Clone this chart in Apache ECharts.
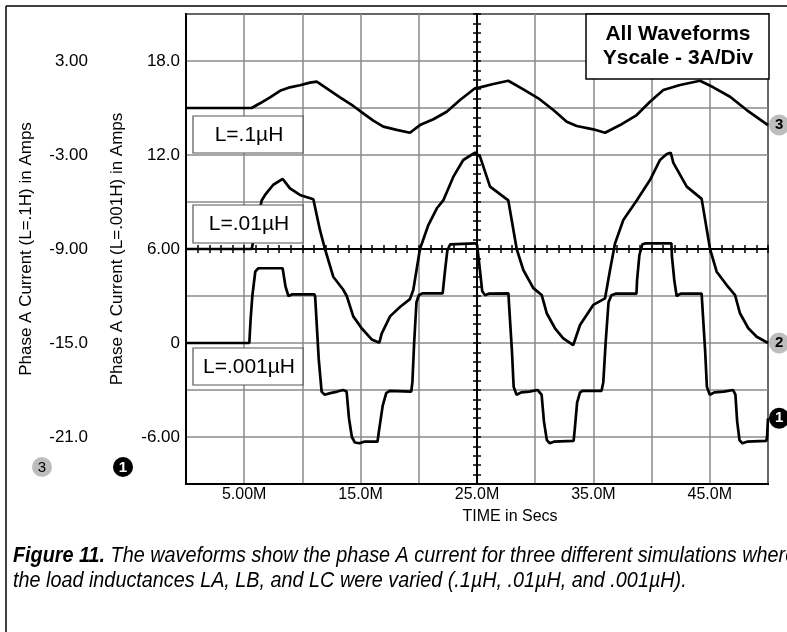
<!DOCTYPE html>
<html>
<head>
<meta charset="utf-8">
<script src="https://cdn.jsdelivr.net/npm/echarts@6/dist/echarts.min.js"></script>
<style>
  html, body { margin: 0; padding: 0; background: #fff; }
  #chart { width: 787px; height: 632px; }
</style>
</head>
<body>
<div id="chart"></div>
<script>
// time in ms (scope writes "M"), currents in amps
const xTicks = [5, 15, 25, 35, 45];
const innerTicks = [18, 12, 6, 0, -6];     // L=.001H axis
const outerTicks = [3, -3, -9, -15, -21];  // L=.1H axis

// L=.001uH, read against the inner axis
const curve1 = [
  [0, 0], [5.44, 0], [5.55, 1.5], [5.7, 3.0], [5.95, 4.55], [6.2, 4.77], [8.3, 4.77],
  [8.35, 4.7], [8.55, 3.6], [8.8, 3.0], [9.1, 3.1], [11.05, 3.1],
  [11.1, 2.9], [11.4, -1.0], [11.65, -3.1], [11.9, -3.3], [12.4, -3.2], [13.0, -3.1], [13.5, -3.0], [13.8, -3.1],
  [14.0, -4.8], [14.25, -6.0], [14.5, -6.35], [14.9, -6.4], [15.3, -6.3], [16.45, -6.3],
  [16.6, -5.5], [16.9, -4.0], [17.2, -3.2], [17.5, -3.05], [19.35, -3.1],
  [19.45, -2.5], [19.6, 0], [19.8, 2.6], [20.0, 3.05], [20.3, 3.17], [22.05, 3.17],
  [22.25, 4.6], [22.45, 5.9], [22.7, 6.3], [24.8, 6.36],
  [25.0, 6.3], [25.2, 5.0], [25.45, 3.3], [25.7, 3.05], [26.0, 3.15], [27.7, 3.17],
  [27.75, 2.5], [28.0, -0.5], [28.15, -2.8], [28.4, -3.3], [28.8, -3.15], [29.5, -3.1], [30.2, -3.0], [30.35, -3.05],
  [30.55, -3.3], [30.75, -5.0], [31.0, -6.2], [31.25, -6.4], [31.6, -6.3], [33.3, -6.25],
  [33.4, -5.5], [33.6, -3.8], [33.85, -3.15], [34.1, -3.05], [35.7, -3.05],
  [35.85, -2.5], [36.05, 0], [36.3, 2.6], [36.55, 3.05], [36.9, 3.15], [38.7, 3.15],
  [38.75, 4.0], [38.95, 5.6], [39.2, 6.3], [39.5, 6.36], [41.7, 6.36],
  [41.75, 5.5], [41.95, 4.0], [42.15, 3.0], [42.5, 3.15], [44.3, 3.15],
  [44.35, 2.5], [44.6, -0.5], [44.75, -2.8], [45.0, -3.3], [45.4, -3.15], [46.2, -3.1], [47.0, -3.0], [47.1, -3.1],
  [47.2, -3.3], [47.35, -5.0], [47.55, -6.2], [47.8, -6.4], [48.2, -6.3], [49.85, -6.25],
  [49.92, -6.0], [50, -4.8]
];

// L=.01uH, its zero sits on the centre line
const curve2 = [
  [0, 0], [5.64, 0], [6.1, 1.6], [6.5, 3.1], [6.79, 3.45], [7.5, 4.1], [8.31, 4.47],
  [8.93, 3.87], [9.79, 3.45], [10.94, 3.17], [11.51, 1.2], [11.94, 0],
  [12.65, -1.77], [13.51, -2.6], [13.81, -3.0], [14.37, -4.3], [15.09, -5.06], [15.95, -5.77], [16.61, -5.98],
  [16.81, -5.4], [17.53, -4.3], [18.38, -3.7], [19.24, -3.2], [19.53, -2.6], [20.1, 0],
  [20.82, 1.53], [21.55, 2.6], [22.1, 3.1], [22.96, 4.6], [23.82, 5.68], [24.83, 6.15],
  [25.26, 5.9], [26.12, 3.98], [27.69, 3.1], [28.41, 0], [28.98, -1.34], [29.84, -2.5], [30.56, -2.94],
  [30.99, -4.1], [31.7, -5.06], [32.41, -5.7], [33.27, -6.13],
  [33.85, -4.85], [34.99, -3.57], [36.0, -3.15], [36.43, -1.34], [36.86, 0.36], [37.57, 1.85], [38.72, 3.1],
  [39.86, 4.4], [40.72, 5.68], [41.3, 6.06], [41.64, 6.15],
  [41.87, 5.5], [43.02, 3.98], [44.3, 3.2], [45.02, 0], [45.59, -1.45], [46.45, -2.3], [47.17, -2.94],
  [47.59, -4.1], [48.31, -5.06], [49.03, -5.6], [50, -6.0]
];

// L=.1uH, read against the outer axis
const curve3 = [
  [0, 0], [5.64, 0], [6.36, 0.3], [7.22, 0.68], [8.08, 1.1], [8.93, 1.32], [9.79, 1.45], [10.65, 1.62], [11.23, 1.68],
  [12.09, 1.25], [13.23, 0.68], [14.37, 0.13], [15.23, -0.34], [16.09, -0.81], [16.95, -1.19], [18.1, -1.4], [19.24, -1.58],
  [20.1, -1.09], [21.25, -0.72], [22.4, -0.24], [23.54, 0.51], [24.83, 1.26], [25.26, 1.32], [26.4, 1.53], [27.69, 1.74],
  [28.98, 1.19], [30.27, 0.62], [31.56, -0.13], [32.71, -0.88], [33.57, -1.15], [34.99, -1.36], [36.0, -1.58],
  [37.29, -1.09], [38.72, -0.45], [39.86, 0.4], [41.01, 1.15], [42.44, 1.47], [44.16, 1.74],
  [45.3, 1.32], [46.74, 0.72], [48.17, -0.13], [50, -1.09]
];

const FONT = 'Liberation Sans, Arial, sans-serif';
const fmt = v => (v === 0 ? '0' : v.toPrecision(3));

function endBadge(txt, bg, fg) {
  return {
    show: true, formatter: txt, distance: 1,
    fontFamily: FONT, fontSize: 15, fontWeight: 'bold', lineHeight: 15,
    color: fg, backgroundColor: bg, borderRadius: 11, padding: [3, 6]
  };
}

const chart = echarts.init(document.getElementById('chart'));

const option = {
  animation: false,
  backgroundColor: '#fff',
  grid: { left: 186, top: 14, width: 582, height: 470, show: true, borderColor: '#000', borderWidth: 2 },
  xAxis: [
    {
      type: 'value', min: 0, max: 50, interval: 5,
      axisLine: { onZero: false, lineStyle: { color: '#000', width: 2 } },
      axisTick: { show: false },
      axisLabel: {
        formatter: v => (xTicks.includes(v) ? v.toPrecision(3) + 'M' : ''),
        margin: 3, color: '#000', fontFamily: FONT, fontSize: 16
      },
      splitLine: { lineStyle: { color: '#8a8a8a', width: 1.5 } },
      name: 'TIME in Secs', nameLocation: 'middle', nameGap: 25,
      nameTextStyle: { color: '#000', fontFamily: FONT, fontSize: 16, padding: [0, 0, 0, 66] }
    },
    // centre horizontal scale line with ticks (one tick per ms)
    {
      type: 'value', min: -25, max: 25, interval: 1,
      axisLine: { onZero: true, onZeroAxisIndex: 2, lineStyle: { color: '#000', width: 2 } },
      axisTick: { show: true, length: 4, lineStyle: { color: '#000', width: 1.5 } },
      axisLabel: { show: false }, splitLine: { show: false }
    },
    {
      type: 'value', min: -25, max: 25, interval: 1,
      axisLine: { onZero: true, onZeroAxisIndex: 2, show: false },
      axisTick: { show: true, inside: true, length: 4, lineStyle: { color: '#000', width: 1.5 } },
      axisLabel: { show: false }, splitLine: { show: false }
    }
  ],
  yAxis: [
    {
      type: 'value', min: -9, max: 21, interval: 3,
      axisLine: { onZero: false, lineStyle: { color: '#000', width: 2 } },
      axisTick: { show: false },
      axisLabel: {
        formatter: v => (innerTicks.includes(v) ? fmt(v) : ''),
        margin: 6, color: '#000', fontFamily: FONT, fontSize: 17
      },
      splitLine: { lineStyle: { color: '#8a8a8a', width: 1.5 } },
      name: 'Phase A Current (L=.001H) in Amps', nameLocation: 'middle', nameGap: 60,
      nameTextStyle: { color: '#000', fontFamily: FONT, fontSize: 17 }
    },
    {
      type: 'value', min: -24, max: 6, interval: 3, position: 'left', offset: 90,
      axisLine: { show: false, onZero: false },
      axisTick: { show: false },
      axisLabel: {
        formatter: v => (outerTicks.includes(v) ? fmt(v) : ''),
        margin: 8, color: '#000', fontFamily: FONT, fontSize: 17
      },
      splitLine: { show: false },
      name: 'Phase A Current (L=.1H) in Amps', nameLocation: 'middle', nameGap: 61,
      nameTextStyle: { color: '#000', fontFamily: FONT, fontSize: 17 }
    },
    // curve 2 scale, also draws the centre vertical line (3A/div, 5 ticks per div)
    {
      type: 'value', min: -15, max: 15, interval: 0.6,
      axisLine: { onZero: true, onZeroAxisIndex: 1, lineStyle: { color: '#000', width: 2 } },
      axisTick: { show: true, length: 4, lineStyle: { color: '#000', width: 1.5 } },
      axisLabel: { show: false }, splitLine: { show: false }
    },
    {
      type: 'value', min: -15, max: 15, interval: 0.6,
      axisLine: { onZero: true, onZeroAxisIndex: 1, show: false },
      axisTick: { show: true, inside: true, length: 4, lineStyle: { color: '#000', width: 1.5 } },
      axisLabel: { show: false }, splitLine: { show: false }
    }
  ],
  series: [
    {
      name: 'L=.001uH', type: 'line', xAxisIndex: 0, yAxisIndex: 0, data: curve1,
      showSymbol: false, lineStyle: { color: '#000', width: 2.7 },
      endLabel: endBadge('1', '#000', '#fff')
    },
    {
      name: 'L=.01uH', type: 'line', xAxisIndex: 0, yAxisIndex: 2, data: curve2,
      showSymbol: false, lineStyle: { color: '#000', width: 2.7 },
      endLabel: endBadge('2', '#bdbdbd', '#000')
    },
    {
      name: 'L=.1uH', type: 'line', xAxisIndex: 0, yAxisIndex: 1, data: curve3,
      showSymbol: false, lineStyle: { color: '#000', width: 2.7 },
      endLabel: endBadge('3', '#bdbdbd', '#000')
    }
  ],
  graphic: [
    // page frame
    { type: 'line', shape: { x1: 6, y1: 6, x2: 787, y2: 6 }, style: { stroke: '#000', lineWidth: 1.5 } },
    { type: 'line', shape: { x1: 6, y1: 6, x2: 6, y2: 632 }, style: { stroke: '#000', lineWidth: 1.5 } },

    // curve tags
    { type: 'rect', z: 50, shape: { x: 193, y: 116, width: 110, height: 37 }, style: { fill: '#fff', stroke: '#555', lineWidth: 1.2 } },
    { type: 'text', z: 51, style: { text: 'L=.1µH', x: 249, y: 135, textAlign: 'center', textVerticalAlign: 'middle', font: '21px ' + FONT, fill: '#000' } },
    { type: 'rect', z: 50, shape: { x: 193, y: 205, width: 110, height: 38 }, style: { fill: '#fff', stroke: '#555', lineWidth: 1.2 } },
    { type: 'text', z: 51, style: { text: 'L=.01µH', x: 249, y: 224, textAlign: 'center', textVerticalAlign: 'middle', font: '21px ' + FONT, fill: '#000' } },
    { type: 'rect', z: 50, shape: { x: 193, y: 348, width: 110, height: 37 }, style: { fill: '#fff', stroke: '#555', lineWidth: 1.2 } },
    { type: 'text', z: 51, style: { text: 'L=.001µH', x: 249, y: 367, textAlign: 'center', textVerticalAlign: 'middle', font: '21px ' + FONT, fill: '#000' } },

    // scale note
    { type: 'rect', z: 50, shape: { x: 586, y: 14, width: 183, height: 65 }, style: { fill: '#fff', stroke: '#000', lineWidth: 1.5 } },
    { type: 'text', z: 51, style: { text: 'All Waveforms', x: 678, y: 34, textAlign: 'center', textVerticalAlign: 'middle', font: 'bold 21px ' + FONT, fill: '#000' } },
    { type: 'text', z: 51, style: { text: 'Yscale - 3A/Div', x: 678, y: 58, textAlign: 'center', textVerticalAlign: 'middle', font: 'bold 21px ' + FONT, fill: '#000' } },

    // axis keys under the two scales
    { type: 'circle', shape: { cx: 42, cy: 467, r: 10 }, style: { fill: '#bdbdbd' } },
    { type: 'text', style: { text: '3', x: 42, y: 468, textAlign: 'center', textVerticalAlign: 'middle', font: '15px ' + FONT, fill: '#000' } },
    { type: 'circle', shape: { cx: 123, cy: 467, r: 10 }, style: { fill: '#000' } },
    { type: 'text', style: { text: '1', x: 123, y: 468, textAlign: 'center', textVerticalAlign: 'middle', font: 'bold 15px ' + FONT, fill: '#fff' } },

    // caption, squeezed to mimic the condensed face
    {
      type: 'text', x: 13, y: 567, scaleX: 0.9,
      style: {
        x: 0, y: 0, textVerticalAlign: 'bottom',
        text: '{b|Figure 11.} The waveforms show the phase A current for three different simulations where',
        font: 'italic 22px ' + FONT, fill: '#000',
        rich: { b: { font: 'italic bold 22px ' + FONT, fill: '#000' } }
      }
    },
    {
      type: 'text', x: 13, y: 592, scaleX: 0.9,
      style: {
        x: 0, y: 0, textVerticalAlign: 'bottom',
        text: 'the load inductances LA, LB, and LC were varied (.1µH, .01µH, and .001µH).',
        font: 'italic 22px ' + FONT, fill: '#000'
      }
    }
  ]
};

chart.setOption(option);
</script>
</body>
</html>
